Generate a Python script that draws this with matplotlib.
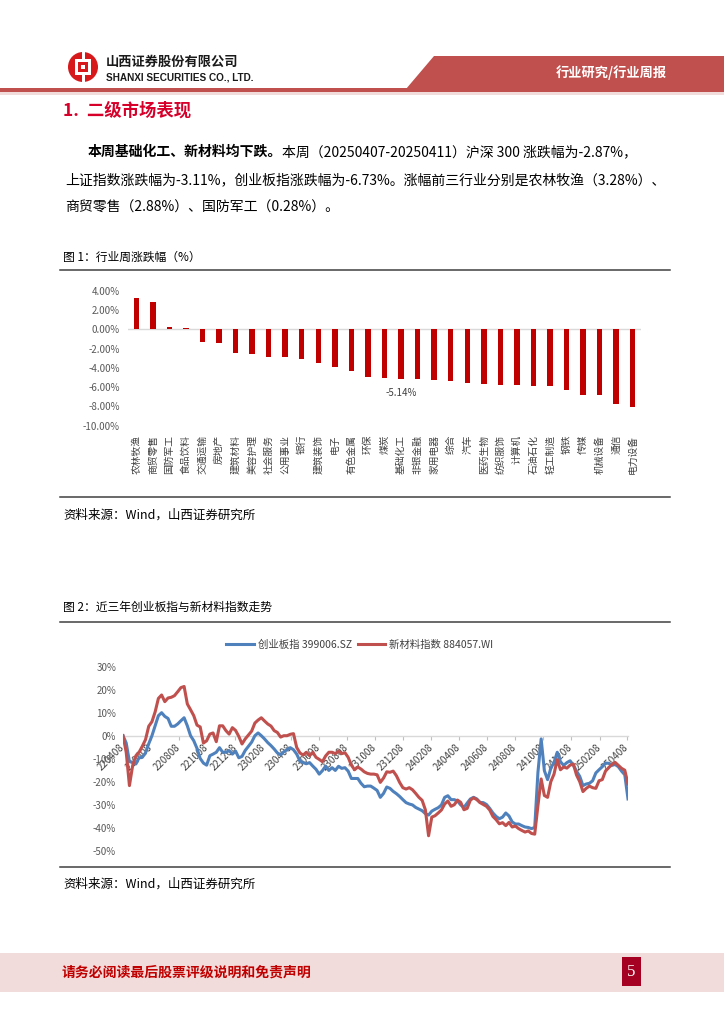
import matplotlib
matplotlib.use('Agg')
import matplotlib.pyplot as plt
import matplotlib.patches as mpatches
from matplotlib.ticker import FuncFormatter
import numpy as np
import pandas as pd

plt.rcParams['font.family'] = ['Noto Sans CJK SC', 'DejaVu Sans']
plt.rcParams['axes.unicode_minus'] = False

# ---------------- data ----------------
industries = ['农林牧渔', '商贸零售', '国防军工', '食品饮料', '交通运输', '房地产', '建筑材料',
              '美容护理', '社会服务', '公用事业', '银行', '建筑装饰', '电子', '有色金属', '环保',
              '煤炭', '基础化工', '非银金融', '家用电器', '综合', '汽车', '医药生物', '纺织服饰',
              '计算机', '石油石化', '轻工制造', '钢铁', '传媒', '机械设备', '通信', '电力设备']
weekly_change = [3.28, 2.88, 0.28, 0.18, -1.28, -1.45, -2.42, -2.53, -2.84, -2.90, -3.10,
                 -3.45, -3.90, -4.35, -4.94, -5.04, -5.14, -5.17, -5.28, -5.35, -5.56, -5.63,
                 -5.73, -5.80, -5.87, -5.88, -6.28, -6.80, -6.81, -7.73, -8.10]
highlight_industry = '基础化工'

series_start = '2022-04-08'
cyb_index = [0, -3.2, -11.3, -11.6, -12.3, -9.6, -9.4, -7.5, -3.5, 0.0,
             4.3, 8.7, 10.0, 8.4, 7.5, 4.1, 4.1, 5.1, 6.5, 7.8,
             4.3, 0.0, -2.2, -5.5, -9.9, -11.9, -12.8, -8.7, -8.0, -7.2,
             -5.2, -7.2, -7.2, -6.5, -8.0, -6.7, -9.6, -9.0, -6.4, -4.6,
             -2.8, 0.0, 1.2, 0.0, -1.4, -3.0, -4.3, -5.8, -7.5, -8.3,
             -7.0, -6.1, -5.2, -6.1, -8.0, -11.0, -11.7, -12.2, -11.7, -13.2,
             -14.6, -16.7, -15.2, -13.2, -15.1, -13.9, -15.1, -13.3, -14.2, -13.9,
             -15.4, -18.6, -18.6, -18.6, -20.7, -22.2, -21.9, -21.9, -22.8, -23.8,
             -26.8, -25.1, -22.3, -22.9, -24.2, -25.2, -26.4, -27.8, -29.1, -29.7,
             -30.1, -31.2, -31.9, -32.6, -33.9, -34.5, -32.8, -32.0, -31.3, -30.1,
             -26.8, -26.1, -27.8, -27.8, -28.4, -30.1, -31.2, -29.3, -27.5, -26.8,
             -27.5, -29.0, -29.1, -29.9, -31.6, -33.6, -35.1, -36.1, -35.4, -33.6,
             -34.9, -37.5, -38.4, -38.4, -39.1, -39.7, -39.9, -40.4, -39.9, -15.9,
             -1.4, -15.2, -19.1, -14.2, -11.6, -7.2, -11.3, -12.9, -11.7, -10.9,
             -12.8, -15.4, -17.7, -21.7, -21.0, -20.7, -19.6, -16.2, -14.8, -13.5,
             -11.9, -12.0, -12.9, -12.5, -13.5, -15.4, -17.0, -27.5]
new_material_index = [0, -7.2, -21.7, -13.0, -8.7, -7.2, -4.6, -1.7, 4.1, 6.1,
                      10.4, 16.2, 17.7, 14.8, 16.4, 16.7, 17.4, 19.1, 20.9, 21.4,
                      13.8, 11.3, 8.7, 4.6, 3.8, -3.2, -2.2, 0.7, 1.2, -2.6,
                      4.3, 4.3, 2.2, 0.7, 3.5, 2.3, -0.3, -3.6, -1.4, 0.3,
                      2.0, 5.5, 6.8, 7.8, 6.4, 5.1, 4.2, 2.2, 1.4, -0.6,
                      0.0, 0.0, 0.6, 0.9, -5.1, -7.5, -8.4, -7.2, -8.7, -7.2,
                      -9.4, -10.3, -11.3, -8.8, -7.2, -7.2, -7.8, -6.7, -7.8, -7.4,
                      -9.4, -12.8, -14.8, -13.6, -14.5, -15.7, -16.4, -16.7, -16.7, -17.0,
                      -20.3, -18.4, -15.7, -15.9, -15.4, -17.4, -20.3, -22.6, -23.2, -22.6,
                      -23.5, -25.1, -26.8, -28.1, -32.2, -43.5, -35.4, -34.8, -33.6, -32.3,
                      -29.7, -28.4, -30.7, -30.0, -28.0, -29.0, -32.2, -31.6, -28.0, -27.0,
                      -27.8, -29.1, -29.9, -30.7, -32.3, -35.1, -36.5, -38.3, -37.8, -39.1,
                      -37.7, -39.7, -39.3, -40.4, -41.2, -41.9, -41.4, -42.5, -42.8, -30.4,
                      -18.8, -26.0, -26.8, -20.0, -16.7, -10.4, -14.8, -13.6, -14.1, -12.8,
                      -12.3, -17.1, -20.0, -24.3, -22.9, -21.9, -22.6, -22.9, -19.6, -19.1,
                      -15.4, -13.9, -12.5, -11.6, -12.9, -14.2, -15.0, -21.0]
date_tick_labels = ['220408', '220608', '220808', '221008', '221208', '230208', '230408',
                    '230608', '230808', '231008', '231208', '240208', '240408', '240608',
                    '240808', '241008', '241208', '250208', '250408']
legend_labels = ['创业板指 399006.SZ', '新材料指数 884057.WI']

# ---------------- page ----------------
W, H = 724, 1024
fig = plt.figure(figsize=(W / 100, H / 100), dpi=100)
ov = fig.add_axes([0, 0, 1, 1], zorder=0)
ov.set_xlim(0, W)
ov.set_ylim(H, 0)
ov.axis('off')


def fbox(l, t, r, b):
    return [l / W, 1 - b / H, (r - l) / W, (b - t) / H]


RED = '#C0504D'
# header band
ov.add_patch(mpatches.Polygon([[434, 56], [724, 56], [724, 89], [406, 89]], closed=True,
                              facecolor=RED, lw=0))
ov.add_patch(mpatches.Rectangle((0, 88), 724, 4, facecolor=RED, lw=0))
ov.add_patch(mpatches.Rectangle((0, 92), 724, 3, facecolor='#F2DCDB', lw=0))
ov.text(611, 73, '行业研究/行业周报', color='white', fontsize=9.5, ha='center', va='center',
        fontweight='bold')
# logo
ov.add_patch(mpatches.Circle((83, 67), 15, facecolor='#D7191C', lw=0))
ov.add_patch(mpatches.Rectangle((75, 59), 16, 16, facecolor='white', lw=0))
ov.add_patch(mpatches.Rectangle((78, 62), 10, 10, facecolor='#D7191C', lw=0))
ov.add_patch(mpatches.Rectangle((81, 65), 4, 4, facecolor='white', lw=0))
ov.add_patch(mpatches.Rectangle((81.5, 51), 3, 9, facecolor='white', lw=0))
ov.add_patch(mpatches.Rectangle((81.5, 74), 3, 9, facecolor='white', lw=0))
ov.text(106, 62, '山西证券股份有限公司', fontsize=9.5, fontweight='bold', va='center',
        color='#1a1a1a')
ov.text(106, 77.5, 'SHANXI SECURITIES CO., LTD.', fontsize=7.2, fontweight='bold', va='center',
        color='#1a1a1a', family=['Liberation Sans Narrow', 'Liberation Sans', 'DejaVu Sans'])

# section title
ov.text(63, 111, '1.  二级市场表现', color='#D6002A', fontsize=12.5, fontweight='bold',
        va='center')

# paragraph
t1 = ov.text(88, 152, '本周基础化工、新材料均下跌。', fontsize=10, fontweight='bold', va='center')
fig.canvas.draw()
bb = t1.get_window_extent(renderer=fig.canvas.get_renderer())
x_after = bb.x1
ov.text(x_after, 152, '本周（20250407-20250411）沪深 300 涨跌幅为-2.87%，', fontsize=10,
        va='center')
ov.text(65, 180, '上证指数涨跌幅为-3.11%，创业板指涨跌幅为-6.73%。涨幅前三行业分别是农林牧渔（3.28%）、',
        fontsize=10, va='center')
ov.text(65, 208, '商贸零售（2.88%）、国防军工（0.28%）。', fontsize=10, va='center')

# figure 1 frame
ov.text(63, 257, '图 1：行业周涨跌幅（%）', fontsize=8.5, va='center')
ov.plot([60, 670], [270, 270], color='#404040', lw=1.1)
ov.plot([60, 670], [497, 497], color='#404040', lw=1.1)
ov.text(63, 515, '资料来源：Wind，山西证券研究所', fontsize=9, va='center')

# figure 2 frame
ov.text(63, 607, '图 2：近三年创业板指与新材料指数走势', fontsize=8.5, va='center')
ov.plot([60, 670], [622, 622], color='#404040', lw=1.1)
ov.plot([60, 670], [867, 867], color='#404040', lw=1.1)
ov.text(63, 884, '资料来源：Wind，山西证券研究所', fontsize=9, va='center')

# footer
ov.add_patch(mpatches.Rectangle((0, 953), 724, 39, facecolor='#F2DCDB', lw=0))
ov.text(62, 972, '请务必阅读最后股票评级说明和免责声明', color='#C00000', fontsize=10,
        fontweight='bold', va='center')
ov.add_patch(mpatches.Rectangle((622, 957), 19, 29, facecolor='#A50021', lw=0))
ov.text(631.5, 972, '5', color='white', fontsize=12, ha='center', va='center',
        family=['Liberation Serif', 'DejaVu Serif'])

# ---------------- bar chart ----------------
axb = fig.add_axes(fbox(128, 281.1, 641, 425.7), zorder=2)
axb.patch.set_alpha(0)
xpos = np.arange(len(industries))
axb.bar(xpos, weekly_change, width=0.33, color='#C00000', zorder=3)
axb.set_xlim(-0.5, len(industries) - 0.5)
axb.set_ylim(-10, 5)
axb.set_yticks(np.arange(-10, 5, 2))
axb.yaxis.set_major_formatter(FuncFormatter(lambda v, p: f'{v:.2f}%'))
for s in axb.spines.values():
    s.set_visible(False)
axb.axhline(0, color='#D9D9D9', lw=1, zorder=2)
axb.tick_params(axis='y', length=0, labelsize=7, labelcolor='#595959', pad=6)
axb.set_xticks(xpos)
axb.set_xticklabels(industries, rotation=90, fontsize=7, color='#404040')
axb.tick_params(axis='x', length=0, pad=6.5)
hi = industries.index(highlight_industry)
axb.annotate(f'{weekly_change[hi]:.2f}%', xy=(hi, weekly_change[hi]), xytext=(0, -10),
             textcoords='offset points', ha='center', va='center', fontsize=7,
             color='#404040')

# ---------------- line chart ----------------
axl = fig.add_axes(fbox(123, 666.7, 628, 850.7), zorder=2)
axl.patch.set_alpha(0)
dates = pd.date_range(series_start, periods=len(cyb_index), freq='7D')
axl.plot(dates, cyb_index, color='#4F81BD', lw=2.2, label=legend_labels[0], zorder=3)
axl.plot(dates, new_material_index, color='#C0504D', lw=2.2, label=legend_labels[1], zorder=4)
axl.set_ylim(-50, 30)
axl.set_yticks(np.arange(-50, 31, 10))
axl.yaxis.set_major_formatter(FuncFormatter(lambda v, p: f'{v:.0f}%'))
axl.set_xlim(dates[0], dates[-1])
for k, s in axl.spines.items():
    s.set_visible(k == 'bottom')
axl.spines['bottom'].set_position(('data', 0))
axl.spines['bottom'].set_color('#D9D9D9')
axl.spines['bottom'].set_linewidth(1)
tick_dates = [pd.Timestamp(f'20{s[:2]}-{s[2:4]}-{s[4:]}') for s in date_tick_labels]
axl.set_xticks(tick_dates)
axl.set_xticklabels(date_tick_labels, fontsize=7, color='#404040')
plt.setp(axl.get_xticklabels(), rotation=45, ha='right', va='center', rotation_mode='anchor')
axl.tick_params(axis='x', direction='out', length=3, color='#BFBFBF', pad=4)
axl.tick_params(axis='y', length=0, labelsize=7, labelcolor='#595959', pad=5)
axl.legend(loc='center', bbox_to_anchor=(360 / W, 1 - 645 / H), bbox_transform=fig.transFigure,
           ncol=2, frameon=False, fontsize=7.5, handlelength=2.6, columnspacing=0.6,
           handletextpad=0.4, labelcolor='#404040')

fig.savefig('out.png', dpi=100)
